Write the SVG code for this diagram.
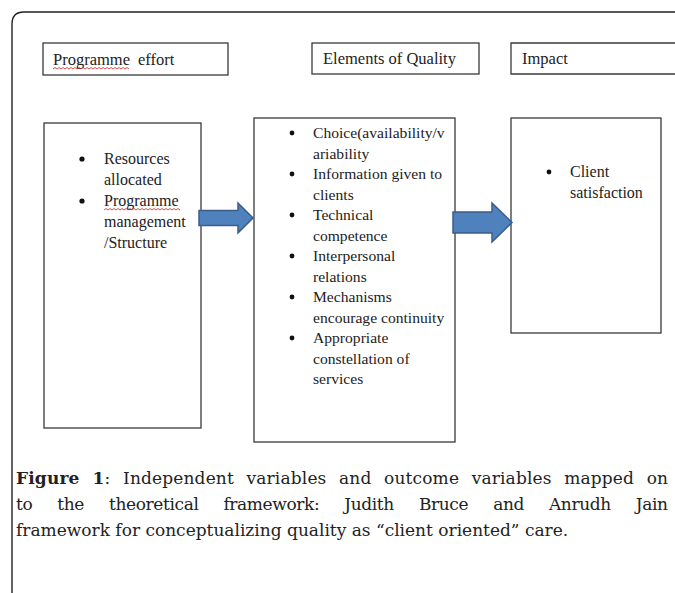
<svg xmlns="http://www.w3.org/2000/svg" width="675" height="593" viewBox="0 0 675 593">
<style>
.box{fill:#fff;stroke:#3a3a3a;stroke-width:1.3}
.hd{font-family:"Liberation Serif","Times New Roman",serif;font-size:16.5px;fill:#222}
.lb{font-family:"Liberation Serif","Times New Roman",serif;font-size:16px;fill:#222}
.mb{font-family:"Liberation Serif","Times New Roman",serif;font-size:15.6px;fill:#222}
.cap{font-family:"DejaVu Serif","Noto Serif",serif;font-size:17px;fill:#222}
.bul{fill:#111}
.arrow{fill:#4F81BD;stroke:#385D8A;stroke-width:1.5}
.wavy{fill:none;stroke:#d02020;stroke-width:0.8}
</style>
<rect width="675" height="593" fill="#fff"/>
<path d="M12,593 V24 Q12,12 24,12 H675" fill="none" stroke="#222" stroke-width="1.4"/>

<g id="header-programme">
<rect class="box" x="43" y="43" width="185" height="32"/>
<text class="hd" x="53" y="65">Programme<tspan x="138">effort</tspan></text>
<polyline class="wavy" points="53,69 55,67.5 57,69 59,67.5 61,69 63,67.5 65,69 67,67.5 69,69 71,67.5 73,69 75,67.5 77,69 79,67.5 81,69 83,67.5 85,69 87,67.5 89,69 91,67.5 93,69 95,67.5 97,69 99,67.5 101,69 103,67.5 105,69 107,67.5 109,69 111,67.5 113,69 115,67.5 117,69 119,67.5 121,69 123,67.5 125,69 127,67.5 129,69"/>
</g>
<g id="header-quality">
<rect class="box" x="312" y="43" width="167" height="31"/>
<text class="hd" x="323" y="64">Elements of Quality</text>
</g>
<g id="header-impact">
<path class="box" d="M675,43 H511 V74 H675" fill="#fff"/>
<text class="hd" x="522" y="64">Impact</text>
</g>

<g id="node-programme">
<rect class="box" x="44" y="123" width="157" height="305"/>
<circle class="bul" cx="82" cy="159" r="2.6"/>
<circle class="bul" cx="82" cy="201" r="2.6"/>
<text class="lb" x="104" y="164">Resources</text>
<text class="lb" x="104" y="185">allocated</text>
<text class="lb" x="104" y="206">Programme</text>
<text class="lb" x="104" y="227">management</text>
<text class="lb" x="104" y="248">/Structure</text>
<polyline class="wavy" points="104,210 106,208.5 108,210 110,208.5 112,210 114,208.5 116,210 118,208.5 120,210 122,208.5 124,210 126,208.5 128,210 130,208.5 132,210 134,208.5 136,210 138,208.5 140,210 142,208.5 144,210 146,208.5 148,210 150,208.5 152,210 154,208.5 156,210 158,208.5 160,210 162,208.5 164,210 166,208.5 168,210 170,208.5 172,210 174,208.5 176,210 178,208.5 180,210"/>
</g>

<g id="node-quality">
<rect class="box" x="254" y="118" width="201" height="324"/>
<g class="bul">
<circle cx="292" cy="133" r="2.4"/>
<circle cx="292" cy="174" r="2.4"/>
<circle cx="292" cy="215" r="2.4"/>
<circle cx="292" cy="256" r="2.4"/>
<circle cx="292" cy="297" r="2.4"/>
<circle cx="292" cy="338" r="2.4"/>
</g>
<text class="mb" x="313" y="138">Choice(availability/v</text>
<text class="mb" x="313" y="158.5">ariability</text>
<text class="mb" x="313" y="179">Information given to</text>
<text class="mb" x="313" y="199.5">clients</text>
<text class="mb" x="313" y="220">Technical</text>
<text class="mb" x="313" y="240.5">competence</text>
<text class="mb" x="313" y="261">Interpersonal</text>
<text class="mb" x="313" y="281.5">relations</text>
<text class="mb" x="313" y="302">Mechanisms</text>
<text class="mb" x="313" y="322.5">encourage continuity</text>
<text class="mb" x="313" y="343">Appropriate</text>
<text class="mb" x="313" y="363.5">constellation of</text>
<text class="mb" x="313" y="384">services</text>
</g>

<g id="node-impact">
<rect class="box" x="511" y="118" width="150" height="215"/>
<circle class="bul" cx="549" cy="172" r="2.4"/>
<text class="lb" x="570" y="177">Client</text>
<text class="lb" x="570" y="198">satisfaction</text>
</g>

<g id="connectors">
<path class="arrow" d="M199,210.5 H238 V203 L253,218 L238,233 V225.5 H199 Z"/>
<path class="arrow" d="M453,212 H492 V203 L512,222.5 L492,242 V233 H453 Z"/>
</g>

<g id="caption">
<text class="cap" x="16" y="484" word-spacing="7" textLength="652" lengthAdjust="spacing"><tspan font-weight="bold">Figure 1</tspan>: Independent variables and outcome variables mapped on</text>
<text class="cap" x="16" y="510" word-spacing="20" textLength="652" lengthAdjust="spacing">to the theoretical framework: Judith Bruce and Anrudh Jain</text>
<text class="cap" x="16" y="536">framework for conceptualizing quality as “client oriented” care.</text>
</g>
</svg>
